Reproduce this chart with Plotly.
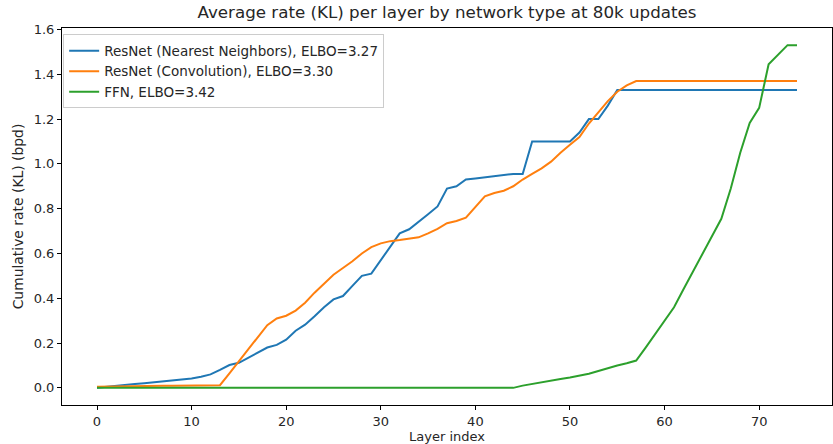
import plotly.graph_objects as go

layers = list(range(75))

resnet_nn = [0.000, 0.005, 0.009, 0.013, 0.017, 0.021, 0.025, 0.029, 0.032, 0.036,
             0.042, 0.050, 0.060, 0.080, 0.102, 0.112, 0.135, 0.155, 0.180, 0.192,
             0.215, 0.255, 0.282, 0.320, 0.360, 0.395, 0.410, 0.455, 0.500, 0.510,
             0.570, 0.630, 0.690, 0.708, 0.740, 0.775, 0.810, 0.890, 0.900, 0.930,
             0.935, 0.940, 0.945, 0.952, 0.955, 0.955, 1.100, 1.100, 1.100, 1.100,
             1.100, 1.140, 1.200, 1.200, 1.260, 1.330, 1.330, 1.330, 1.330, 1.330,
             1.330, 1.330, 1.330, 1.330, 1.330, 1.330, 1.330, 1.330, 1.330, 1.330,
             1.330, 1.330, 1.330, 1.330, 1.330]

resnet_conv = [0.005, 0.006, 0.006, 0.007, 0.007, 0.008, 0.008, 0.009, 0.009, 0.010,
               0.010, 0.011, 0.011, 0.012, 0.065, 0.120, 0.175, 0.225, 0.280, 0.310,
               0.322, 0.345, 0.380, 0.425, 0.465, 0.505, 0.535, 0.565, 0.600, 0.628,
               0.645, 0.655, 0.660, 0.665, 0.672, 0.690, 0.710, 0.735, 0.745, 0.760,
               0.810, 0.855, 0.870, 0.880, 0.900, 0.930, 0.955, 0.980, 1.010, 1.050,
               1.085, 1.120, 1.180, 1.230, 1.280, 1.322, 1.350, 1.370, 1.370, 1.370,
               1.370, 1.370, 1.370, 1.370, 1.370, 1.370, 1.370, 1.370, 1.370, 1.370,
               1.370, 1.370, 1.370, 1.370, 1.370]

ffn = [0.0] * 44 + [0.000, 0.010, 0.018, 0.025, 0.032, 0.040, 0.046, 0.053, 0.063, 0.075,
                    0.088, 0.100, 0.110, 0.122, 0.180, 0.240, 0.300, 0.360, 0.440, 0.520,
                    0.600, 0.680, 0.755, 0.890, 1.050, 1.183, 1.250, 1.445, 1.488, 1.530,
                    1.530]

names = ["ResNet (Nearest Neighbors), ELBO=3.27",
         "ResNet (Convolution), ELBO=3.30",
         "FFN, ELBO=3.42"]
colors = ["#1f77b4", "#ff7f0e", "#2ca02c"]

x_ticks = [0, 10, 20, 30, 40, 50, 60, 70]
y_ticks = [0.0, 0.2, 0.4, 0.6, 0.8, 1.0, 1.2, 1.4, 1.6]

fig = go.Figure()
for ys, nm, c in zip([resnet_nn, resnet_conv, ffn], names, colors):
    fig.add_trace(go.Scatter(x=layers, y=ys, mode="lines", name=nm,
                             line=dict(color=c, width=2)))

axis_common = dict(showline=True, mirror=True, linecolor="black", linewidth=1,
                   ticks="outside", ticklen=4, tickcolor="black", showgrid=False,
                   zeroline=False, automargin=False,
                   tickfont=dict(size=13, color="#262626"))

fig.update_layout(
    width=833, height=444,
    margin=dict(l=62, r=1, t=28, b=39),
    paper_bgcolor="white", plot_bgcolor="white",
    font=dict(family="DejaVu Sans", size=13.9, color="#262626"),
    title=dict(text="Average rate (KL) per layer by network type at 80k updates",
               x=0.5366, xanchor="center", xref="container", y=0.973, yanchor="middle",
               yref="container", font=dict(size=16.7)),
    xaxis=dict(range=[-3.7, 77.7], tickvals=x_ticks,
               title=dict(text="Layer index", standoff=6, font=dict(size=13)),
               **axis_common),
    yaxis=dict(range=[-0.0765, 1.6065], tickvals=y_ticks, tickformat=".1f",
               title=dict(text="Cumulative rate (KL) (bpd)", standoff=6,
                          font=dict(size=13.9)),
               **axis_common),
    legend=dict(x=0.0015, y=0.983, xanchor="left", yanchor="top",
                bgcolor="rgba(255,255,255,0.9)", bordercolor="#cccccc", borderwidth=1,
                font=dict(size=13.5), tracegroupgap=0, itemwidth=30),
    showlegend=True,
)

fig.write_html("out.html", config={"displayModeBar": False},
               post_script="document.body.style.margin='0';document.body.style.padding='0';")
